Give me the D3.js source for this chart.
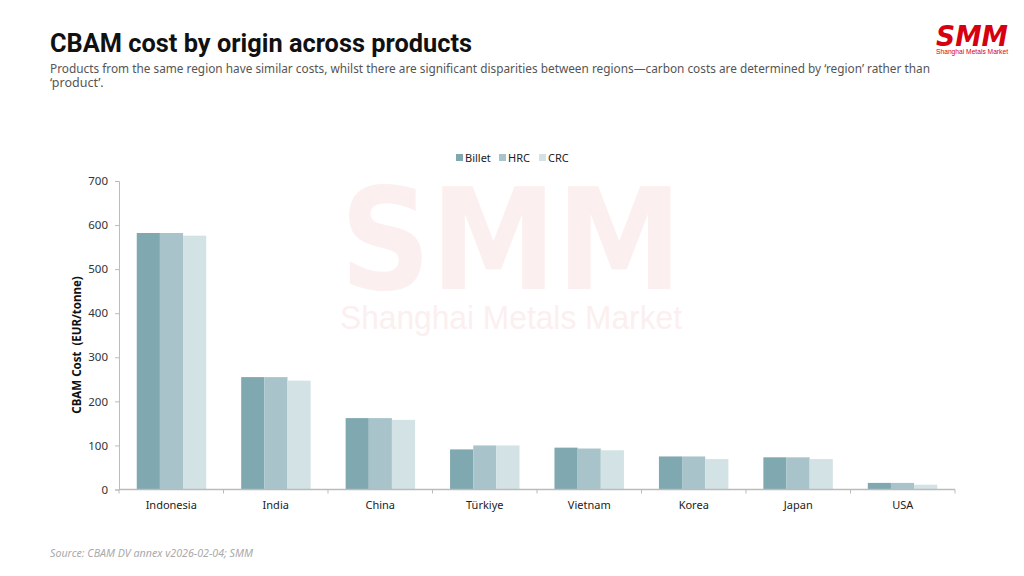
<!DOCTYPE html>
<html><head><meta charset="utf-8">
<script src="https://cdn.jsdelivr.net/npm/d3@7"></script>
<style>
html,body{margin:0;padding:0;background:#fff;}
svg{display:block;font-family:"Noto Sans","Lato",sans-serif;}
</style></head>
<body>
<svg id="chart" width="1024" height="576"></svg>
<script>
const categories = ["Indonesia","India","China","Türkiye","Vietnam","Korea","Japan","USA"];
const seriesNames = ["Billet","HRC","CRC"];
const billet = [582,255,162,91,95,75,73,15];
const hrc    = [582,255,162,100,93,75,73,15];
const crc    = [576,247,158,100,89,69,69,11];
const yTicks = [0,100,200,300,400,500,600,700];
const colors = ["#7fa8b0","#a8c4ca","#d3e2e5"];

const svg = d3.select("#chart");
const m = {left:119, right:955, top:181, bottom:489.5};

// watermark
const wm = svg.append("g").attr("fill","#fcefef");
wm.append("text").attr("x",511).attr("y",289).attr("text-anchor","middle")
  .attr("font-family","DejaVu Sans, sans-serif").attr("font-weight",700)
  .attr("font-size",140).attr("textLength",342).attr("lengthAdjust","spacingAndGlyphs")
  .text("SMM");
wm.append("text").attr("x",511).attr("y",329).attr("text-anchor","middle")
  .attr("font-family","Liberation Sans, Arial, sans-serif")
  .attr("font-size",33).attr("textLength",342).attr("lengthAdjust","spacingAndGlyphs")
  .text("Shanghai Metals Market");

// title
svg.append("text").attr("x",50).attr("y",52).attr("font-size",25).attr("font-weight",700)
  .attr("fill","#111").attr("font-family","Roboto, Noto Sans, sans-serif")
  .attr("textLength",422).attr("lengthAdjust","spacingAndGlyphs")
  .text("CBAM cost by origin across products");
svg.append("text").attr("x",50).attr("y",73).attr("font-size",12.5).attr("fill","#555")
  .attr("textLength",880).attr("lengthAdjust","spacingAndGlyphs")
  .text("Products from the same region have similar costs, whilst there are significant disparities between regions\u2014carbon costs are determined by \u2018region\u2019 rather than");
svg.append("text").attr("x",50).attr("y",87).attr("font-size",12.5).attr("fill","#555")
  .text("\u2018product\u2019.");

// logo
svg.append("text").attr("x",972).attr("y",46).attr("text-anchor","middle")
  .attr("font-family","DejaVu Sans, sans-serif").attr("font-weight",900).attr("font-style","italic")
  .attr("font-size",28).attr("fill","#d7000f").attr("textLength",72).attr("lengthAdjust","spacingAndGlyphs")
  .text("SMM");
svg.append("text").attr("x",972).attr("y",53.5).attr("text-anchor","middle")
  .attr("font-family","Liberation Sans, sans-serif").attr("font-size",6.5).attr("fill","#d7000f")
  .attr("textLength",72).attr("lengthAdjust","spacingAndGlyphs")
  .text("Shanghai Metals Market");

// scales
const x0 = d3.scaleBand().domain(categories).range([m.left, m.right]).paddingInner(0.335).paddingOuter(0.17);
const x1 = d3.scaleBand().domain(seriesNames).range([0, x0.bandwidth()]);
const y = d3.scaleLinear().domain([0,700]).range([m.bottom, m.top]);

const data = categories.map((c,i)=>({cat:c, vals:[billet[i],hrc[i],crc[i]]}));

// bars
const g = svg.append("g");
data.forEach(d=>{
  g.selectAll(null).data(d.vals).enter().append("rect")
    .attr("x",(v,j)=>x0(d.cat)+x1(seriesNames[j]))
    .attr("y",v=>y(v))
    .attr("width",x1.bandwidth())
    .attr("height",v=>y(0)-y(v))
    .attr("fill",(v,j)=>colors[j]);
});

// y axis
const yAxis = svg.append("g").attr("transform",`translate(${m.left},0)`)
  .call(d3.axisLeft(y).tickValues(yTicks).tickSize(4).tickPadding(7));
yAxis.select(".domain").attr("stroke","#bbb");
yAxis.selectAll(".tick line").attr("stroke","#bbb");
yAxis.selectAll(".tick text").attr("font-size",11.5).attr("fill","#333").attr("font-family","Noto Sans, sans-serif");

// x axis with ticks at band boundaries
const xAxis = svg.append("g").attr("transform",`translate(0,${m.bottom})`);
xAxis.append("line").attr("x1",m.left).attr("x2",m.right).attr("stroke","#bbb").attr("stroke-width",1.5);
const step = (m.right-m.left)/categories.length;
xAxis.selectAll("line.tk").data(d3.range(categories.length+1)).enter().append("line")
  .attr("x1",i=>m.left+i*step).attr("x2",i=>m.left+i*step).attr("y1",0).attr("y2",4).attr("stroke","#bbb");
xAxis.selectAll("text").data(categories).enter().append("text")
  .attr("x",c=>m.left+(categories.indexOf(c)+0.5)*step).attr("y",19)
  .attr("text-anchor","middle").attr("font-size",11).attr("fill","#222").text(c=>c);

// y label
svg.append("text").attr("transform","translate(81,345) rotate(-90)").attr("text-anchor","middle")
  .attr("font-size",11.5).attr("font-weight",700).attr("fill","#111").attr("xml:space","preserve")
  .style("white-space","pre").text("CBAM Cost  (EUR/tonne)");

// legend
const lg = svg.append("g");
const lx = [456, 499, 539];
seriesNames.forEach((s,i)=>{
  lg.append("rect").attr("x",lx[i]).attr("y",154).attr("width",7).attr("height",7).attr("fill",colors[i]);
  lg.append("text").attr("x",lx[i]+9).attr("y",161.5).attr("font-size",11).attr("fill","#222").text(s);
});

// source
svg.append("text").attr("x",50).attr("y",557).attr("font-size",10).attr("font-style","italic")
  .attr("fill","#aaa").attr("textLength",203).attr("lengthAdjust","spacingAndGlyphs")
  .text("Source: CBAM DV annex v2026-02-04; SMM");
</script>
</body></html>
